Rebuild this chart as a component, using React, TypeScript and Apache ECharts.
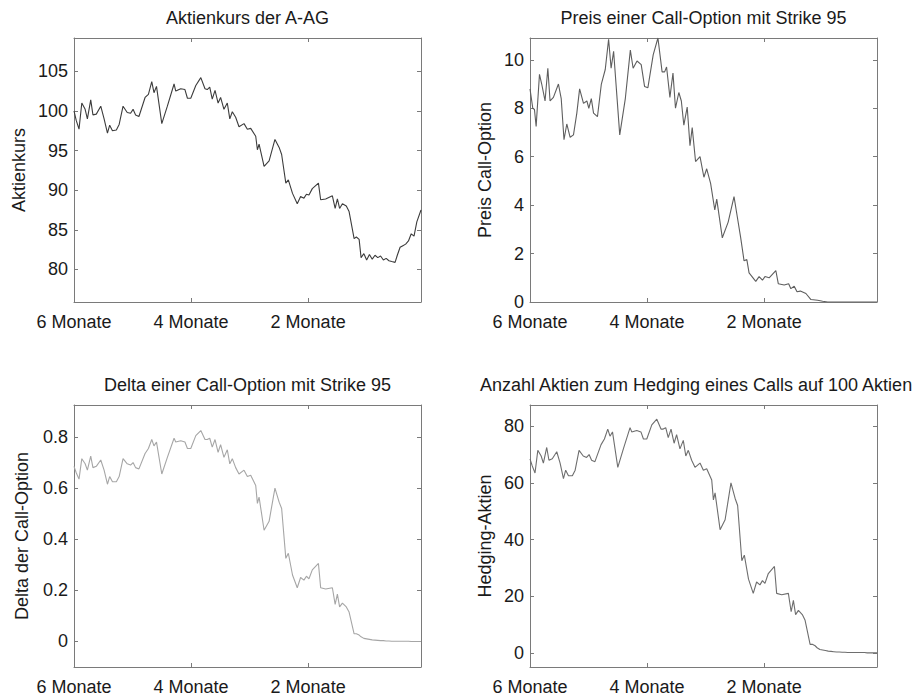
import React, { useEffect, useRef } from "react";
import * as echarts from "echarts";

// x axis: trading days since start (6 months before expiry)
const xTickDays = [0, 42, 84];
const xTickLabels = ["6 Monate", "4 Monate", "2 Monate"];
const xMaxDay = 124.5;

const stockDays = [
  0, 0.8, 1.8, 2.8, 4.0, 4.8, 6.0, 6.8, 8.0, 9.6, 10.8, 12.0, 12.8, 13.8, 15.2, 16.2, 17.6, 19.1, 20.3, 21.2,
  22.1, 23.3, 25.5, 26.7, 27.9, 28.7, 29.6, 31.5, 33.5, 35.9, 36.5, 38.3, 39.8, 40.7, 41.9, 43.7, 45.5, 47.0,
  47.8, 48.7, 49.6, 50.6, 51.7, 52.6, 53.8, 55.0, 55.9, 56.8, 58.0, 59.2, 61.0, 62.2, 63.4, 65.2, 65.8, 66.4,
  68.2, 70.0, 72.1, 73.6, 74.5, 76.0, 76.9, 78.4, 80.1, 81.3, 82.5, 83.4, 84.3, 85.5, 87.7, 88.5, 90.3, 92.7,
  93.7, 94.5, 95.3, 96.3, 97.7, 98.7, 100.5, 101.3, 102.3,
  103, 104, 105, 106, 107, 108, 109, 110, 111, 112, 113, 114, 115.2, 116, 117, 118, 119, 120, 121, 122, 123, 124.5,
];

const stockPrice = [
  100.0, 98.8, 97.7, 101.0, 100.2, 99.0, 101.4, 99.5, 99.6, 100.6, 99.0, 97.2, 98.2, 97.5, 97.6, 98.3, 100.6,
  99.8, 99.7, 100.2, 99.5, 99.3, 101.7, 102.1, 103.7, 102.3, 103.1, 98.4, 100.6, 103.4, 102.5, 102.8, 102.7,
  101.6, 101.6, 103.2, 104.2, 102.8, 102.7, 103.0, 101.5, 102.6, 101.0, 101.7, 100.2, 101.0, 99.0, 99.9, 99.2,
  98.0, 98.4, 97.7, 97.8, 96.8, 95.1, 95.8, 93.0, 93.7, 96.4, 95.4, 94.5, 90.9, 91.3, 89.6, 88.3, 89.2, 89.0,
  89.5, 89.4, 90.2, 90.9, 88.8, 88.9, 89.3, 87.7, 88.9, 87.7, 88.3, 88.0, 87.3, 83.9, 84.1, 83.8,
  81.5, 82.0, 81.2, 81.9, 81.3, 81.8, 81.5, 81.7, 81.2, 81.4, 81.1, 81.0, 80.9, 81.8, 82.8, 83.0, 83.2, 83.6,
  84.5, 84.2, 86.0, 87.5,
];

const deltaValues = [
  0.685, 0.66, 0.635, 0.715, 0.695, 0.67, 0.725, 0.68, 0.685, 0.71, 0.67, 0.615, 0.645, 0.625, 0.625, 0.645,
  0.715, 0.695, 0.69, 0.7, 0.68, 0.675, 0.735, 0.755, 0.79, 0.765, 0.78, 0.655, 0.72, 0.795, 0.78, 0.785, 0.78,
  0.755, 0.755, 0.805, 0.825, 0.79, 0.79, 0.795, 0.76, 0.79, 0.74, 0.77, 0.72, 0.75, 0.695, 0.715, 0.68, 0.655,
  0.67, 0.645, 0.65, 0.61, 0.54, 0.565, 0.435, 0.47, 0.6, 0.545, 0.52, 0.325, 0.345, 0.26, 0.21, 0.25, 0.24,
  0.255, 0.245, 0.28, 0.305, 0.21, 0.205, 0.21, 0.145, 0.185, 0.135, 0.15, 0.135, 0.115, 0.03, 0.03, 0.025,
  0.018, 0.012, 0.01, 0.008, 0.006, 0.005, 0.004, 0.003, 0.003, 0.002, 0.002, 0.001, 0.001, 0.001, 0.001,
  0.001, 0.001, 0.001, 0.0, 0.0, 0.0, 0.0,
];

const hedgeShares = [
  68.5, 66, 63.5, 71.5, 69.5, 67, 72.5, 68, 68.5, 71, 67, 61.5, 64.5, 62.5, 62.5, 64.5, 71.5, 69.5, 69, 70,
  68, 67.5, 73.5, 75.5, 79, 76.5, 78, 65.5, 72, 79.5, 78, 78.5, 78, 75.5, 75.5, 80.5, 82.5, 79, 79, 79.5,
  76, 79, 74, 77, 72, 75, 69.5, 71.5, 68, 65.5, 67, 64.5, 65, 61, 54, 56.5, 43.5, 47, 60, 54.5,
  52, 32.5, 34.5, 26, 21, 25, 24, 25.5, 24.5, 28, 30.5, 21, 20.5, 21, 14.5, 18.5, 13.5, 15, 13.5, 11.5,
  3, 3, 2.5,
  1.8, 1.2, 1.0, 0.8, 0.6, 0.5, 0.4, 0.3, 0.3, 0.2, 0.2, 0.1, 0.1, 0.1, 0.1, 0.1, 0.1, 0.1, 0, 0, 0, 0,
];

const optionDays = [
  0, 1.0, 1.6, 2.2, 3.4, 4.2, 5.4, 6.4, 7.2, 8.4, 10.2, 11.2, 12.2, 13.2, 14.4, 15.6, 16.8, 17.8, 19.2, 20.4,
  21.1, 22.0, 22.8, 24.2, 25.6, 27.0, 28.2, 29.1, 30.0, 32.2, 34.2, 36.0, 37.0, 38.4, 39.9, 41.1, 42.3, 44.2,
  45.9, 47.4, 48.3, 49.0, 50.2, 51.3, 52.2, 53.4, 54.3, 55.2, 56.4, 57.4, 58.2, 59.4, 61.0, 62.4, 63.4, 64.8,
  66.3, 67.0, 69.0, 71.1, 73.2, 74.4, 75.6, 76.8, 77.8, 78.6, 81.0, 82.2, 83.4, 84.3, 85.8, 88.2, 89.1, 91.2,
  92.8, 93.6, 94.8, 95.8, 97.0, 99.0, 100.8, 103.2, 105.0, 106.8, 124.5,
];

const optionPrice = [
  8.8, 8.0, 7.95, 7.25, 9.4, 9.0, 8.3, 9.65, 8.3, 8.45, 9.0, 8.4, 6.7, 7.35, 6.8, 6.9, 7.8, 8.8, 8.2, 8.3,
  8.0, 8.4, 7.8, 7.65, 9.0, 9.6, 10.85, 9.65, 10.35, 6.9, 8.4, 10.4, 9.65, 9.95, 9.8, 8.9, 8.85, 10.2, 10.9,
  9.5, 9.5, 9.7, 8.45, 9.45, 8.0, 8.65, 8.3, 7.3, 8.05, 6.45, 7.2, 5.8, 6.0, 5.15, 5.5, 4.9, 3.8, 4.25, 2.65,
  3.3, 4.35, 3.5, 2.65, 1.7, 1.75, 1.2, 0.85, 1.05, 0.9, 1.05, 1.0, 1.3, 0.75, 0.7, 0.75, 0.55, 0.65, 0.42,
  0.45, 0.35, 0.1, 0.07, 0.03, 0, 0,
];

const panelTitles = [
  "Aktienkurs der A-AG",
  "Preis einer Call-Option mit Strike 95",
  "Delta einer Call-Option mit Strike 95",
  "Anzahl Aktien zum Hedging eines Calls auf 100 Aktien",
];
const yAxisNames = ["Aktienkurs", "Preis Call-Option", "Delta der Call-Option", "Hedging-Aktien"];

const FONT = '"Liberation Sans", Arial, Helvetica, sans-serif';
const FRAME = "#7a7a7a";
const TEXT = "#1a1a1a";
const FS = 18;

function App() {
  const ref = useRef<HTMLDivElement>(null);

  useEffect(() => {
    if (!ref.current) return;
    const chart = echarts.init(ref.current, undefined, { renderer: "svg" });

    const minOf = (a: number[]) => Math.min(...a);
    const maxOf = (a: number[]) => Math.max(...a);

    const panels = [
      { days: stockDays, values: stockPrice, color: "#3c3c3c", yMin: minOf(stockPrice) - 5, yMax: maxOf(stockPrice) + 5, step: 5, nameGap: 46 },
      { days: optionDays, values: optionPrice, color: "#5e5e5e", yMin: 0, yMax: maxOf(optionPrice), step: 2, nameGap: 36 },
      { days: stockDays, values: deltaValues, color: "#a6a6a6", yMin: minOf(deltaValues) - 0.1, yMax: maxOf(deltaValues) + 0.1, step: 0.2, nameGap: 43 },
      { days: stockDays, values: hedgeShares, color: "#6e6e6e", yMin: minOf(hedgeShares) - 5, yMax: maxOf(hedgeShares) + 5, step: 20, nameGap: 36 },
    ];

    const grids = [
      { left: 74, top: 38, width: 347, height: 264 },
      { left: 530, top: 38, width: 347, height: 264 },
      { left: 74, top: 405, width: 347, height: 263 },
      { left: 530, top: 405, width: 347, height: 263 },
    ];
    // title centres (the last one is shifted left to stay inside the figure)
    const titleX = [247.5, 703.5, 247.5, 696];

    const xLabel = (v: number) => {
      const i = xTickDays.findIndex((d) => Math.abs(d - v) < 1e-6);
      return i >= 0 ? xTickLabels[i] : "";
    };

    const xAxis: any[] = [];
    const yAxis: any[] = [];
    const series: any[] = [];
    const graphic: any[] = [];

    panels.forEach((p, i) => {
      const common = {
        type: "value",
        gridIndex: i,
        min: 0,
        max: xMaxDay,
        interval: 42,
        axisLine: { show: true, onZero: false, lineStyle: { color: FRAME, width: 1 } },
        axisTick: { show: true, inside: true, length: 4, lineStyle: { color: FRAME } },
        splitLine: { show: false },
      };
      xAxis.push({
        ...common,
        position: "bottom",
        axisLabel: {
          formatter: xLabel,
          color: TEXT,
          fontSize: FS,
          fontFamily: FONT,
          margin: 11,
          showMaxLabel: false,
        },
      });
      xAxis.push({ ...common, position: "top", axisLabel: { show: false } });

      const yLabel = (v: number) => {
        const r = v / p.step;
        if (Math.abs(r - Math.round(r)) > 1e-6) return "";
        return String(parseFloat(v.toFixed(6)));
      };
      const yCommon = {
        type: "value",
        gridIndex: i,
        min: p.yMin,
        max: p.yMax,
        splitNumber: 5,
        axisLine: { show: true, onZero: false, lineStyle: { color: FRAME, width: 1 } },
        axisTick: { show: true, inside: true, length: 4, lineStyle: { color: FRAME } },
        splitLine: { show: false },
      };
      yAxis.push({
        ...yCommon,
        position: "left",
        axisLabel: { formatter: yLabel, color: TEXT, fontSize: FS, fontFamily: FONT, margin: 6 },
        name: yAxisNames[i],
        nameLocation: "middle",
        nameRotate: 90,
        nameGap: p.nameGap,
        nameTextStyle: { color: TEXT, fontSize: FS, fontFamily: FONT },
      });
      yAxis.push({ ...yCommon, position: "right", axisLabel: { show: false } });

      series.push({
        type: "line",
        xAxisIndex: 2 * i,
        yAxisIndex: 2 * i,
        data: p.days.map((d, k) => [d, p.values[k]]),
        showSymbol: false,
        symbol: "none",
        lineStyle: { width: 1.1, color: p.color },
        itemStyle: { color: p.color },
        silent: true,
      });

      const g = grids[i];
      graphic.push({
        type: "text",
        x: titleX[i],
        y: g.top - 20,
        style: {
          text: panelTitles[i],
          font: `${FS}px ${FONT}`,
          fill: TEXT,
          align: "center",
          verticalAlign: "middle",
          textAlign: "center",
          textVerticalAlign: "middle",
        },
        silent: true,
      });
    });

    chart.setOption({
      animation: false,
      backgroundColor: "#ffffff",
      grid: grids.map((g) => ({ ...g, containLabel: false })),
      xAxis,
      yAxis,
      series,
      graphic,
    });

    return () => chart.dispose();
  }, []);

  return (
    <div
      ref={ref}
      style={{ position: "fixed", left: 0, top: 0, width: 917, height: 696, background: "#fff" }}
    />
  );
}

export default App;
